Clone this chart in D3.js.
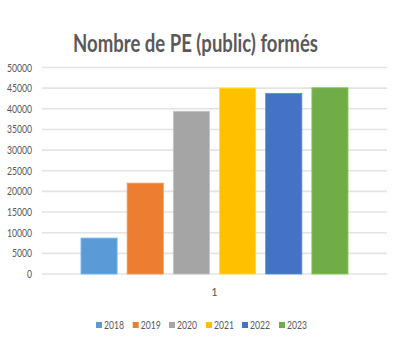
<!DOCTYPE html>
<html><head><meta charset="utf-8">
<script src="https://cdn.jsdelivr.net/npm/d3@7"></script>
<style>body{margin:0;background:#fff;} text{font-family:Lato,"Open Sans",sans-serif;}</style>
</head><body>
<svg id="c" width="399" height="349"></svg>
<script>
const title = "Nombre de PE (public) formés";
const categories = ["1"];
const years = ["2018","2019","2020","2021","2022","2023"];
const values = [8700, 22000, 39400, 45000, 43700, 45100];
const colors = ["#5b9bd5","#ed7d31","#a5a5a5","#ffc000","#4472c4","#70ad47"];
const yTicks = [0,5000,10000,15000,20000,25000,30000,35000,40000,45000,50000];

const svg = d3.select("#c");
const W = 399, H = 349;
const y = d3.scaleLinear().domain([0,50000]).range([274, 67.5]);
const x0 = d3.scaleBand().domain(categories).range([42, 387]).padding(0);
const bw = x0.bandwidth();
const x1 = d3.scaleBand().domain(years).range([bw*0.113, bw*(1-0.113)]).paddingInner(0.217).paddingOuter(0);
const color = d3.scaleOrdinal().domain(years).range(colors);

svg.append("rect").attr("width",W).attr("height",H).attr("fill","#fff");

// title (horizontally condensed via scale)
const tg = svg.append("g");
const tt = tg.append("text").attr("x",0).attr("y",0).attr("text-anchor","middle")
  .attr("font-size",25).attr("font-weight","bold").attr("fill","#595959").text(title);
const tw = tt.node().getComputedTextLength();
tg.attr("transform",`translate(195.5,52) scale(${245/tw},1)`);

// gridlines
svg.append("g").selectAll("line").data(yTicks).join("line")
  .attr("x1",42).attr("x2",387).attr("y1",d=>y(d)).attr("y2",d=>y(d))
  .attr("stroke","#e3e3e3").attr("stroke-width",1.6);

// y axis labels
const ya = svg.append("g").attr("transform","translate(42,0)")
  .call(d3.axisLeft(y).tickValues(yTicks).tickSize(0).tickPadding(10).tickFormat(d3.format("d")));
ya.select(".domain").remove();
ya.selectAll("text").attr("font-size",11).attr("fill","#595959")
  .attr("font-family","Lato, sans-serif")
  .each(function(d){ const n=String(d).length; d3.select(this).attr("textLength", n*5).attr("lengthAdjust","spacingAndGlyphs"); });

// bars
const g = svg.append("g");
categories.forEach(c=>{
  g.selectAll("rect.b").data(years.map((yr,i)=>({yr, v:values[i]}))).join("rect")
    .attr("class","b")
    .attr("x",d=>x0(c)+x1(d.yr)).attr("width",x1.bandwidth())
    .attr("y",d=>y(d.v)).attr("height",d=>y(0)-y(d.v))
    .attr("fill",d=>color(d.yr))
    .attr("stroke",d=>d3.color(color(d.yr)).brighter(0.5)).attr("stroke-width",0.8);
});

// x axis label
const xa = svg.append("g").attr("transform","translate(0,274)")
  .call(d3.axisBottom(x0).tickSize(0).tickPadding(14));
xa.select(".domain").remove();
xa.selectAll("text").attr("font-size",11).attr("fill","#595959").attr("font-family","Lato, sans-serif");

// legend
const legX = [96,132.7,169,206,242,279];
const lg = svg.append("g");
years.forEach((yr,i)=>{
  lg.append("rect").attr("x",legX[i]).attr("y",322).attr("width",6).attr("height",6).attr("fill",colors[i]);
  lg.append("text").attr("x",legX[i]+8).attr("y",329).attr("font-size",11).attr("fill","#595959")
    .attr("textLength",20).attr("lengthAdjust","spacingAndGlyphs").text(yr);
});
</script>
</body></html>
